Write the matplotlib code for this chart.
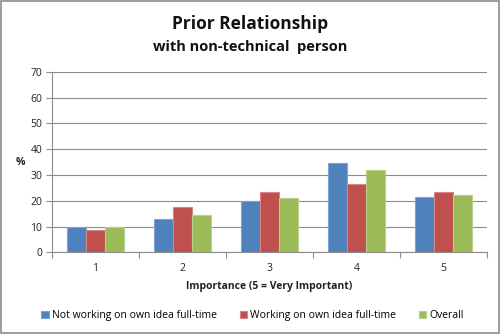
import matplotlib
matplotlib.use("Agg")
import matplotlib.pyplot as plt
import numpy as np
from matplotlib.patches import Rectangle

categories = ["1", "2", "3", "4", "5"]
not_fulltime = [10.0, 13.1, 20.0, 34.6, 21.4]
fulltime = [8.7, 17.4, 23.5, 26.4, 23.5]
overall = [9.9, 14.5, 21.0, 32.0, 22.2]
series_names = ["Not working on own idea full-time",
                "Working on own idea full-time",
                "Overall"]
colors = ["#4F81BD", "#C0504D", "#9BBB59"]
edges = ["#7FA3D2", "#D98583", "#B9D08A"]

plt.rcParams['font.family'] = ['Open Sans', 'DejaVu Sans']

fig = plt.figure(figsize=(5.0, 3.34), dpi=100)
ax = fig.add_axes([0.104, 0.2446, 0.87, 0.5407])

x = np.arange(len(categories))
w = 0.22
for i, (vals, c, ec, name) in enumerate(zip([not_fulltime, fulltime, overall], colors, edges, series_names)):
    ax.bar(x + (i - 1) * w, vals, width=w, color=c, edgecolor=ec, linewidth=0.8,
           label=name, zorder=3)

ax.set_xlim(-0.5, len(categories) - 0.5)
ax.set_ylim(0, 70)
ax.set_yticks(range(0, 71, 10))
ax.yaxis.grid(True, color="#8C8C8C", linewidth=0.8, zorder=0)
ax.set_axisbelow(True)

ax.set_xticks(x)
ax.set_xticklabels(categories)
ax.set_xticks(np.arange(-0.5, len(categories), 1.0), minor=True)
ax.tick_params(axis="x", which="major", length=0, pad=8, labelsize=7.5, colors="#222222")
ax.tick_params(axis="x", which="minor", length=4, color="#8C8C8C", width=0.8)
ax.tick_params(axis="y", length=4, width=0.8, labelsize=7.5, pad=3,
               colors="#8C8C8C", labelcolor="#222222")

for s in ["top", "right"]:
    ax.spines[s].set_visible(False)
for s in ["left", "bottom"]:
    ax.spines[s].set_color("#8C8C8C")
    ax.spines[s].set_linewidth(0.8)

ax.set_xlabel("Importance (5 = Very Important)", fontsize=7.5, fontweight="bold",
              labelpad=5, color="#222222")
fig.text(0.04, 0.512, "%", fontsize=7.5, fontweight="bold", ha="center", va="center",
         color="#222222")

fig.text(0.5, 0.928, "Prior Relationship", fontsize=12.5, fontweight="bold",
         ha="center", va="center", color="#111111")
fig.text(0.5, 0.858, "with non-technical  person", fontsize=10.5, fontweight="bold",
         ha="center", va="center", color="#111111")

ax.legend(loc="center", bbox_to_anchor=(0.505, 0.055), bbox_transform=fig.transFigure,
          ncol=3, frameon=False, fontsize=7.5, handlelength=0.7, handleheight=0.7,
          handletextpad=0.3, columnspacing=2.2)

fig.patches.append(Rectangle((0.002, 0.003), 0.996, 0.994, transform=fig.transFigure,
                             fill=False, edgecolor="#8C8C8C", linewidth=1.2))

fig.savefig("out.png", dpi=100)
